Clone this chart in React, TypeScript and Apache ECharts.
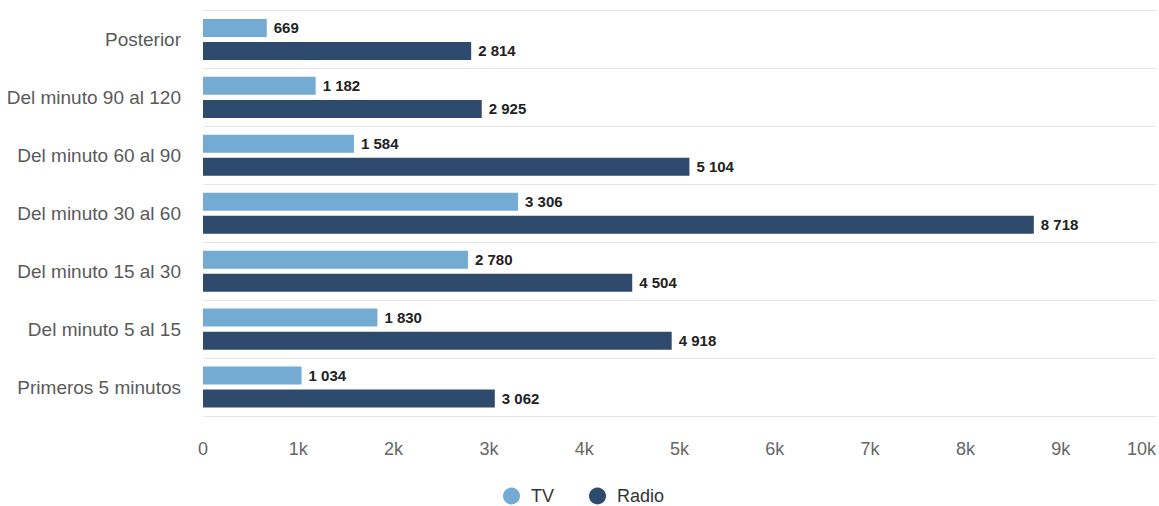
import React, { useEffect, useRef } from "react";
import * as echarts from "echarts";

const categories = [
  "Posterior",
  "Del minuto 90 al 120",
  "Del minuto 60 al 90",
  "Del minuto 30 al 60",
  "Del minuto 15 al 30",
  "Del minuto 5 al 15",
  "Primeros 5 minutos",
];
const tvValues = [669, 1182, 1584, 3306, 2780, 1830, 1034];
const radioValues = [2814, 2925, 5104, 8718, 4504, 4918, 3062];
const xTicks = { min: 0, max: 10000, interval: 1000 };

const fmtNum = (v: number) => String(v).replace(/\B(?=(\d{3})+(?!\d))/g, " ");
const FONT = "'Liberation Sans', Arial, sans-serif";

export default function App() {
  const ref = useRef<HTMLDivElement>(null);
  useEffect(() => {
    if (!ref.current) return;
    const chart = echarts.init(ref.current, undefined, { renderer: "svg" });
    const label = {
      show: true,
      position: "right",
      distance: 7,
      fontFamily: FONT,
      fontSize: 15,
      fontWeight: "bold",
      color: "#222",
      formatter: (p: any) => fmtNum(p.value),
    };
    chart.setOption({
      animation: false,
      textStyle: { fontFamily: FONT },
      grid: { left: 203, right: 1, top: 10.5, bottom: 90, containLabel: false },
      legend: {
        top: 487,
        left: 503,
        padding: 0,
        icon: "circle",
        itemWidth: 17,
        itemHeight: 17,
        itemGap: 35,
        textStyle: { fontFamily: FONT, fontSize: 18, color: "#333", padding: [0, 0, 0, 6] },
        data: ["TV", "Radio"],
      },
      xAxis: {
        type: "value",
        min: xTicks.min,
        max: xTicks.max,
        interval: xTicks.interval,
        axisLine: { show: false },
        axisTick: { show: false },
        splitLine: { show: false },
        axisLabel: {
          color: "#666",
          fontFamily: FONT,
          fontSize: 18,
          margin: 24,
          alignMaxLabel: "right",
          formatter: (v: number) => (v === 0 ? "0" : v / 1000 + "k"),
        },
      },
      yAxis: {
        type: "category",
        inverse: true,
        data: categories,
        axisLine: { show: false },
        axisTick: { show: false },
        splitLine: { show: true, lineStyle: { color: "#e6e6e6", width: 1 } },
        axisLabel: {
          color: "#5a5a5a",
          fontFamily: FONT,
          fontSize: 19,
          margin: 22,
        },
      },
      series: [
        {
          name: "TV",
          type: "bar",
          data: tvValues,
          barWidth: 18,
          barGap: "28%",
          itemStyle: { color: "#74abd3" },
          label,
        },
        {
          name: "Radio",
          type: "bar",
          data: radioValues,
          barWidth: 18,
          itemStyle: { color: "#2e4a6d" },
          label,
        },
      ],
    });
    return () => chart.dispose();
  }, []);
  return (
    <div
      ref={ref}
      style={{ position: "fixed", left: 0, top: 0, width: 1159, height: 506, background: "#fff" }}
    />
  );
}
